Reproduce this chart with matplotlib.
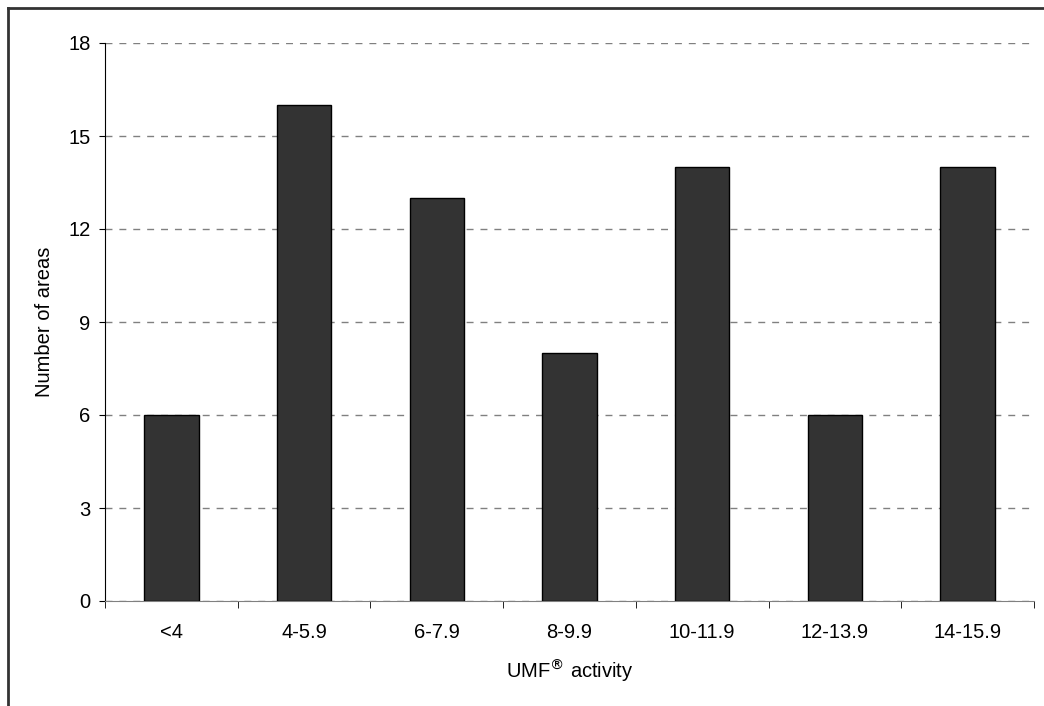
import matplotlib.pyplot as plt
from matplotlib.lines import Line2D

plt.rcParams['font.family'] = ['Liberation Sans', 'DejaVu Sans']

# 데이터
categories = ["<4", "4-5.9", "6-7.9", "8-9.9", "10-11.9", "12-13.9", "14-15.9"]
counts = [6, 16, 13, 8, 14, 6, 14]
yticks = [0, 3, 6, 9, 12, 15, 18]

fs = 14.5

fig = plt.figure(figsize=(10.44, 7.06), dpi=100)
ax = fig.add_axes([105 / 1044, 105 / 706, 929 / 1044, 558 / 706])

x = list(range(len(categories)))
ax.bar(x, counts, width=0.41, color='#333333', edgecolor='black', linewidth=1, zorder=3)

ax.set_xlim(-0.5, len(categories) - 0.5)
ax.set_ylim(0, 18)
ax.set_yticks(yticks)
ax.set_xticks(x)
ax.set_xticklabels(categories)
ax.tick_params(axis='x', length=0, pad=16, labelsize=fs)
ax.set_xticks([i - 0.5 for i in range(len(categories) + 1)], minor=True)
ax.tick_params(axis='x', which='minor', length=5, direction='out', color='black')
ax.tick_params(axis='y', length=4.5, direction='out', labelsize=fs, pad=6)

ax.grid(axis='y', linestyle=(0, (5, 5)), color='#808080', linewidth=1, zorder=0)
for s in ['top', 'right']:
    ax.spines[s].set_visible(False)
ax.spines['left'].set_color('black')
ax.spines['bottom'].set_color('#808080')

ax.set_xlabel("UMF$^{\u00ae}$ activity", fontsize=fs, labelpad=11)
ax.set_ylabel("Number of areas", fontsize=fs, labelpad=10)

# 바깥 테두리 (위쪽, 왼쪽)
fig.add_artist(Line2D([8 / 1044, 8 / 1044], [0, 1 - 8 / 706], color='#333333', linewidth=2))
fig.add_artist(Line2D([8 / 1044, 1], [1 - 8 / 706, 1 - 8 / 706], color='#333333', linewidth=2))

fig.savefig("out.png", dpi=100)
